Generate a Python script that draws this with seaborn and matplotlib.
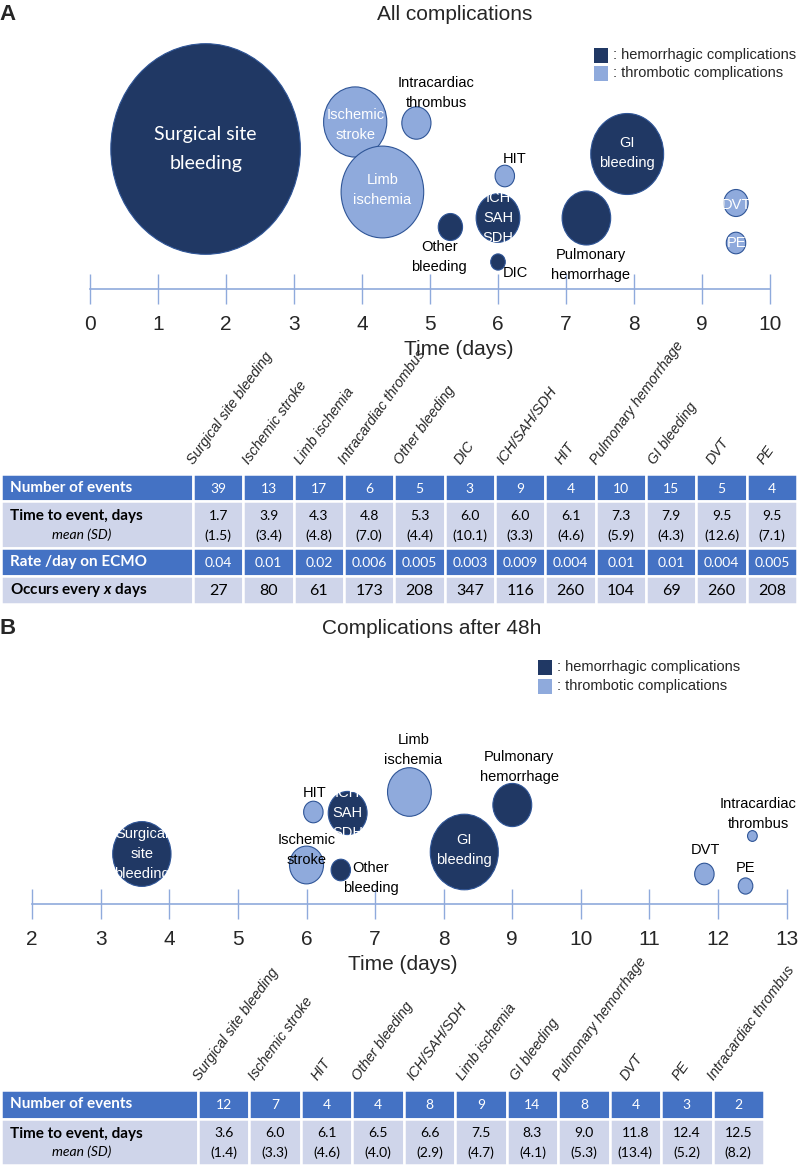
import numpy as np
import pandas as pd
import matplotlib.pyplot as plt
import seaborn as sns
from matplotlib.path import Path
from matplotlib.patches import Rectangle

# ---- panel A: all complications ----
events_a = ["Surgical site bleeding", "Ischemic stroke", "Limb ischemia", "Intracardiac thrombus",
            "Other bleeding", "DIC", "ICH/SAH/SDH", "HIT", "Pulmonary hemorrhage", "GI bleeding",
            "DVT", "PE"]
kind_a = ["hemorrhagic", "thrombotic", "thrombotic", "thrombotic", "hemorrhagic", "hemorrhagic",
          "hemorrhagic", "thrombotic", "hemorrhagic", "hemorrhagic", "thrombotic", "thrombotic"]
count_a = [39, 13, 17, 6, 5, 3, 9, 4, 10, 15, 5, 4]
mean_a = [1.7, 3.9, 4.3, 4.8, 5.3, 6.0, 6.0, 6.1, 7.3, 7.9, 9.5, 9.5]
sd_a = [1.5, 3.4, 4.8, 7.0, 4.4, 10.1, 3.3, 4.6, 5.9, 4.3, 12.6, 7.1]
rate_a = ["0.04", "0.01", "0.02", "0.006", "0.005", "0.003", "0.009", "0.004", "0.01", "0.01",
          "0.004", "0.005"]
every_a = [27, 80, 61, 173, 208, 347, 116, 260, 104, 69, 260, 208]
# vertical placement of the bubbles above the time axis (arbitrary units)
height_a = [140, 167, 97, 166, 62, 27, 71, 113, 71, 135, 86, 46]

# ---- panel B: complications after 48h ----
events_b = ["Surgical site bleeding", "Ischemic stroke", "HIT", "Other bleeding", "ICH/SAH/SDH",
            "Limb ischemia", "GI bleeding", "Pulmonary hemorrhage", "DVT", "PE",
            "Intracardiac thrombus"]
kind_b = ["hemorrhagic", "thrombotic", "thrombotic", "hemorrhagic", "hemorrhagic", "thrombotic",
          "hemorrhagic", "hemorrhagic", "thrombotic", "thrombotic", "thrombotic"]
count_b = [12, 7, 4, 4, 8, 9, 14, 8, 4, 3, 2]
mean_b = [3.6, 6.0, 6.1, 6.5, 6.6, 7.5, 8.3, 9.0, 11.8, 12.4, 12.5]
sd_b = [1.4, 3.3, 4.6, 4.0, 2.9, 4.7, 4.1, 5.3, 13.4, 5.2, 8.2]
height_b = [50, 39, 92, 34, 91, 112, 52, 99, 30, 18, 68]

# ---- style ----
DARK = "#203864"
LIGHT = "#8faadc"
EDGE = "#2f5597"
AXIS = "#8faadc"
HEAD = "#4472c4"
BODY = "#cfd5ea"
W, H = 800, 1165
PX = 0.72  # points per pixel at 100 dpi
SANS = "Liberation Sans"

# bubble labels: text, dx, dy (px, up positive), colour, family, size
labels_a = {
    "Surgical site bleeding": ("Surgical site\nbleeding", 0, 0, "white", "Lato", 14),
    "Ischemic stroke": ("Ischemic\nstroke", 0, -3, "white", SANS, 10.5),
    "Limb ischemia": ("Limb\nischemia", 0, 2, "white", SANS, 10.5),
    "Intracardiac thrombus": ("Intracardiac\nthrombus", 20, 30, "black", SANS, 10.5),
    "Other bleeding": ("Other\nbleeding", -11, -30, "black", SANS, 10.5),
    "DIC": ("DIC", 17, -11, "black", SANS, 10.5),
    "ICH/SAH/SDH": ("ICH\nSAH\nSDH", 0, 0, "white", SANS, 10.5),
    "HIT": ("HIT", 10, 17, "black", SANS, 10.5),
    "Pulmonary hemorrhage": ("Pulmonary\nhemorrhage", 4, -47, "black", SANS, 10.5),
    "GI bleeding": ("GI\nbleeding", 0, 1, "white", SANS, 10.5),
    "DVT": ("DVT", 0, -2, "white", SANS, 10.5),
    "PE": ("PE", 0, 0, "white", SANS, 10.5),
}
labels_b = {
    "Surgical site bleeding": ("Surgical\nsite\nbleeding", 0, 0, "white", SANS, 10.5),
    "Ischemic stroke": ("Ischemic\nstroke", 0, 15, "black", SANS, 10.5),
    "HIT": ("HIT", 1, 19, "black", SANS, 10.5),
    "Other bleeding": ("Other\nbleeding", 30, -8, "black", SANS, 10.5),
    "ICH/SAH/SDH": ("ICH\nSAH\nSDH", 0, 0, "white", SANS, 10.5),
    "Limb ischemia": ("Limb\nischemia", 4, 42, "black", SANS, 10.5),
    "GI bleeding": ("GI\nbleeding", 0, 2, "white", SANS, 10.5),
    "Pulmonary hemorrhage": ("Pulmonary\nhemorrhage", 7, 38, "black", SANS, 10.5),
    "DVT": ("DVT", 1, 24, "black", SANS, 10.5),
    "PE": ("PE", 0, 18, "black", SANS, 10.5),
    "Intracardiac thrombus": ("Intracardiac\nthrombus", 6, 22, "black", SANS, 10.5),
}

sns.set_style("white")
plt.rcParams["font.family"] = [SANS, "DejaVu Sans"]
plt.rcParams["mathtext.fontset"] = "custom"
plt.rcParams["mathtext.it"] = "Lato:italic:bold"

fig = plt.figure(figsize=(W / 100, H / 100), dpi=100)
canvas = fig.add_axes([0, 0, 1, 1])
canvas.set_xlim(0, W)
canvas.set_ylim(H, 0)
canvas.axis("off")

# slightly tall ellipse, as in the original figure
circle = Path.unit_circle()
ELLIPSE = Path(circle.vertices * [0.9, 1.0], circle.codes)


def fig_rect(left, top, right, bottom):
    return [left / W, 1 - bottom / H, (right - left) / W, (bottom - top) / H]


def bubble_panel(df, labels, top, axis_y, day_lo, day_hi, x0, px_day, xlabel_x):
    ax = fig.add_axes(fig_rect(0, top, W, axis_y))
    ax.patch.set_visible(False)
    sns.scatterplot(data=df, x="mean", y="height", hue="kind", size="count",
                    sizes={n: (5.4 * PX * n) ** 2 for n in df["count"].unique()},
                    palette={"hemorrhagic": DARK, "thrombotic": LIGHT},
                    marker=ELLIPSE, edgecolor=EDGE, linewidth=0.8,
                    legend=False, clip_on=False, ax=ax)
    ax.set_xlim(day_lo - x0 / px_day, day_lo + (W - x0) / px_day)
    ax.set_ylim(0, axis_y - top)
    for s in ["left", "top", "right"]:
        ax.spines[s].set_visible(False)
    ax.spines["bottom"].set_color(AXIS)
    ax.spines["bottom"].set_linewidth(1.2)
    ax.spines["bottom"].set_bounds(day_lo, day_hi)
    ax.set_xticks(range(day_lo, day_hi + 1))
    ax.set_yticks([])
    ax.tick_params(axis="x", direction="inout", length=22, width=1, color=AXIS,
                   labelsize=15, pad=8, bottom=True)
    ax.set_xlabel("Time (days)", fontsize=15, labelpad=4)
    ax.set_ylabel("")
    ax.xaxis.label.set_x(xlabel_x)
    for ev, x, y in zip(df["event"], df["mean"], df["height"]):
        text, dx, dy, color, family, size = labels[ev]
        ax.annotate(text, (x, y), xytext=(dx * PX, dy * PX), textcoords="offset points",
                    ha="center", va="center", color=color, family=family, fontsize=size,
                    linespacing=1.8 if size > 13 else 1.55)
    return ax


def legend(x, y):
    items = [(DARK, ": hemorrhagic complications"), (LIGHT, ": thrombotic complications")]
    for i, (color, text) in enumerate(items):
        yy = y + i * 18.5
        canvas.add_patch(Rectangle((x, yy - 7.5), 14, 15, facecolor=color, lw=0))
        canvas.text(x + 19, yy, text, va="center", ha="left", fontsize=10.5)


def table(names, rows, edges, label_w, right, name_y):
    n = len(names)
    col_w = (right - label_w) / n
    centers = label_w + col_w * (np.arange(n) + 0.5)
    for name, cx in zip(names, centers):
        canvas.text(cx - min(22, 4 + 0.9 * len(name)), name_y, name, rotation=54,
                    rotation_mode="anchor", ha="left", va="bottom", fontsize=10.3,
                    style="italic")
    for row, y0, y1 in zip(rows, edges[:-1], edges[1:]):
        fill = HEAD if row["dark"] else BODY
        tcol = "white" if row["dark"] else "black"
        canvas.add_patch(Rectangle((1, y0), label_w - 1, y1 - y0, facecolor=fill,
                                   edgecolor="white", lw=1.8))
        for cx in centers:
            canvas.add_patch(Rectangle((cx - col_w / 2, y0), col_w, y1 - y0, facecolor=fill,
                                       edgecolor="white", lw=1.8))
        if row.get("sub"):
            canvas.text(10, y0 + 15, row["label"], color=tcol, family="Lato", weight="bold",
                        fontsize=11, va="center")
            canvas.text(82, y0 + 33, row["sub"], color=tcol, family="Lato", style="italic",
                        fontsize=10, va="center", ha="center")
        else:
            canvas.text(10, (y0 + y1) / 2, row["label"], color=tcol, family="Lato",
                        weight="bold", fontsize=11, va="center")
        for cx, v in zip(centers, row["values"]):
            canvas.text(cx, (y0 + y1) / 2 + 1, v, color=tcol, family="Lato",
                        fontsize=row.get("size", 10), ha="center", va="center", linespacing=1.7)


df_a = pd.DataFrame({"event": events_a, "kind": kind_a, "count": count_a,
                     "mean": mean_a, "height": height_a})
df_b = pd.DataFrame({"event": events_b, "kind": kind_b, "count": count_b,
                     "mean": mean_b, "height": height_b})

# panel A
canvas.text(8, 15, "A", fontsize=16, weight="bold", ha="center", va="center")
canvas.text(455, 15, "All complications", fontsize=15, ha="center", va="center")
legend(594, 55)
bubble_panel(df_a, labels_a, 30, 289, 0, 10, 90, 68.0, 0.574)
rows_a = [
    {"label": "Number of events", "values": [str(v) for v in count_a], "dark": True},
    {"label": "Time to event, days", "sub": "mean (SD)",
     "values": [f"{m:.1f}\n({s:.1f})" for m, s in zip(mean_a, sd_a)], "dark": False},
    {"label": "Rate /day on ECMO", "values": rate_a, "dark": True},
    {"label": "Occurs every $x$ days", "values": [str(v) for v in every_a], "dark": False,
     "size": 11.5},
]
table(events_a, rows_a, [474, 501.3, 547.8, 575.8, 603.5], 193, 797, 467)

# panel B
canvas.text(8, 628, "B", fontsize=16, weight="bold", ha="center", va="center")
canvas.text(432, 628, "Complications after 48h", fontsize=15, ha="center", va="center")
legend(538, 667.5)
bubble_panel(df_b, labels_b, 700, 904, 2, 13, 32.1, 68.6, 0.504)
rows_b = [
    {"label": "Number of events", "values": [str(v) for v in count_b], "dark": True},
    {"label": "Time to event, days", "sub": "mean (SD)",
     "values": [f"{m:.1f}\n({s:.1f})" for m, s in zip(mean_b, sd_b)], "dark": False},
]
table(events_b, rows_b, [1089.5, 1118.6, 1165], 198, 764, 1083)

fig.savefig("out.png", dpi=100, facecolor="white")
